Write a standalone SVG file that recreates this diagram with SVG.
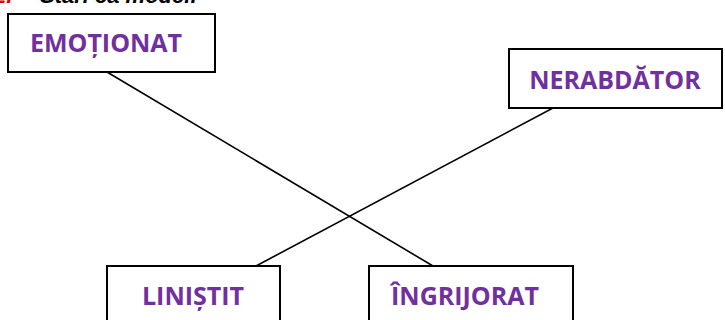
<svg xmlns="http://www.w3.org/2000/svg" width="725" height="320" viewBox="0 0 725 320">
<style>
.box{fill:#fff;stroke:#000;stroke-width:2}
.lbl{font-family:"Open Sans","Liberation Sans",sans-serif;font-weight:bold;font-size:25px;fill:#7030A0}
.conn{stroke:#000;stroke-width:1.6;fill:none}
.hdr{font-family:"Liberation Sans",sans-serif;font-style:italic;font-weight:bold;font-size:22px;fill:#000}
</style>
<rect width="725" height="320" fill="#fff"/>
<text x="-6" y="3" class="hdr" style="fill:#e00000">2.</text>
<text x="40" y="3" class="hdr">Stări ca model.</text>
<g id="connectors">
<line class="conn" x1="107" y1="72" x2="433" y2="266"/>
<line class="conn" x1="553" y1="108" x2="256" y2="266"/>
</g>
<g id="emotionat">
<rect class="box" x="8" y="14" width="207" height="58"/>
<text class="lbl" x="106" y="52" text-anchor="middle">EMOȚIONAT</text>
</g>
<g id="nerabdator">
<rect class="box" x="509" y="49" width="213" height="59"/>
<text class="lbl" x="615" y="89" text-anchor="middle">NERABDĂTOR</text>
</g>
<g id="linistit">
<rect class="box" x="107" y="266" width="173" height="60"/>
<text class="lbl" x="193" y="305" text-anchor="middle">LINIȘTIT</text>
</g>
<g id="ingrijorat">
<rect class="box" x="369" y="266" width="204" height="60"/>
<text class="lbl" x="465" y="305" text-anchor="middle">ÎNGRIJORAT</text>
</g>
</svg>
